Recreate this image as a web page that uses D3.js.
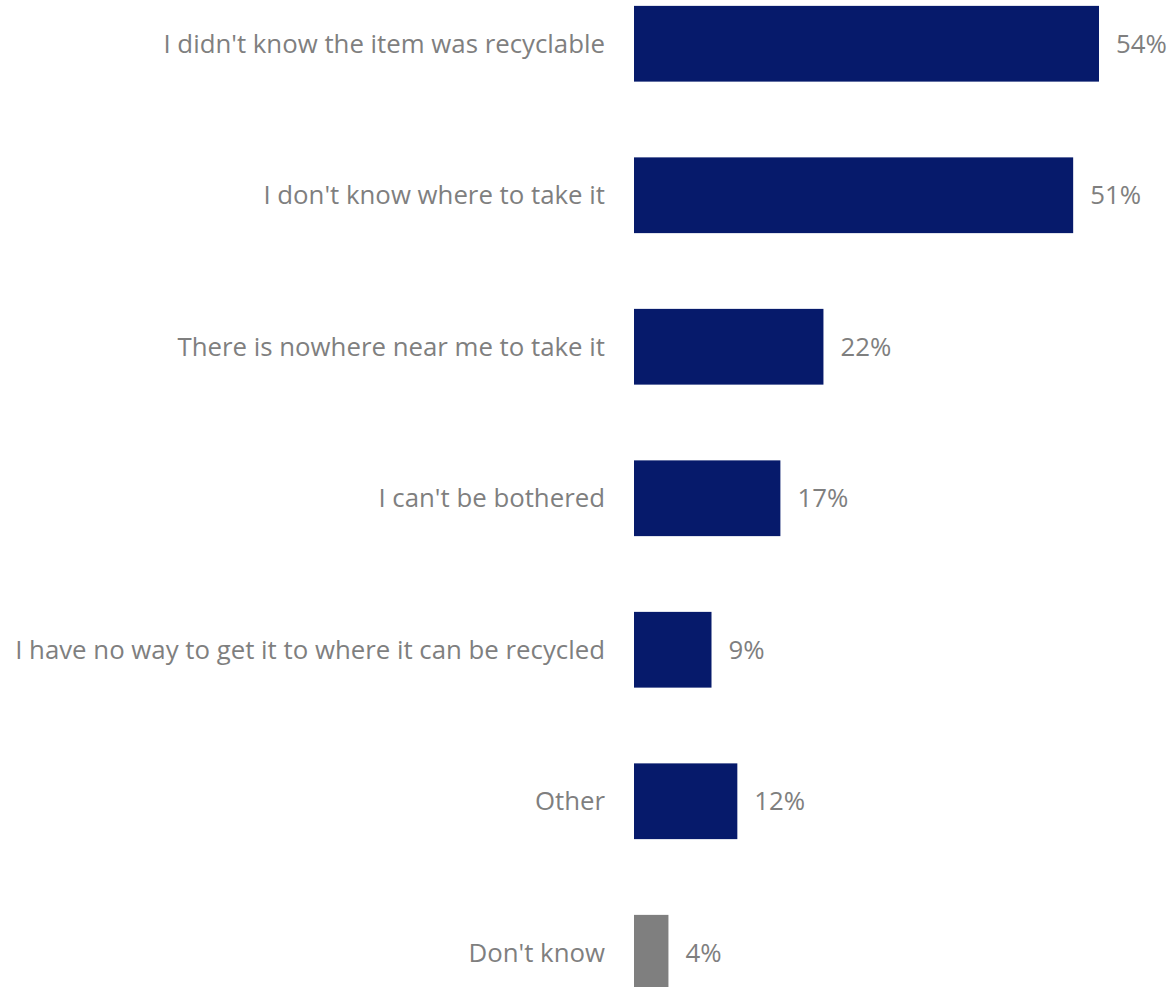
<!DOCTYPE html>
<html>
<head>
<meta charset="utf-8">
<script src="https://cdn.jsdelivr.net/npm/d3@7"></script>
<style>
  body { margin: 0; background: #fff; }
  svg text { font-family: "Open Sans", "Segoe UI", sans-serif; fill: #7f7f7f; }
</style>
</head>
<body>
<svg id="chart" width="1171" height="987"></svg>
<script>
// reasons for not recycling, share of respondents
const categories = [
  "I didn't know the item was recyclable",
  "I don't know where to take it",
  "There is nowhere near me to take it",
  "I can't be bothered",
  "I have no way to get it to where it can be recycled",
  "Other",
  "Don't know"
];
const values = [54, 51, 22, 17, 9, 12, 4];
const barColors = ["#061a6b", "#061a6b", "#061a6b", "#061a6b", "#061a6b", "#061a6b", "#7f7f7f"];

const svg = d3.select("#chart");
const x0 = 634, fontSize = 25.8;

const x = d3.scaleLinear().domain([0, 54]).range([x0, 1099]);
const y = d3.scaleBand()
    .domain(categories)
    .range([-32, 1028.5])
    .paddingInner(0.5)
    .paddingOuter(0.25);

const rows = svg.selectAll(".row")
  .data(categories)
  .enter().append("g")
    .attr("class", "row");

rows.append("rect")
    .attr("x", x0)
    .attr("y", d => y(d))
    .attr("width", (d, i) => x(values[i]) - x0)
    .attr("height", y.bandwidth())
    .attr("fill", (d, i) => barColors[i]);

// category labels, right aligned against the bars
rows.append("text")
    .attr("x", x0 - 29)
    .attr("y", d => y(d) + y.bandwidth() / 2)
    .attr("dy", "0.35em")
    .attr("text-anchor", "end")
    .style("font-size", fontSize + "px")
    .text(d => d);

// value labels
rows.append("text")
    .attr("x", (d, i) => x(values[i]) + 17)
    .attr("y", d => y(d) + y.bandwidth() / 2)
    .attr("dy", "0.35em")
    .style("font-size", fontSize + "px")
    .text((d, i) => values[i] + "%");
</script>
</body>
</html>
